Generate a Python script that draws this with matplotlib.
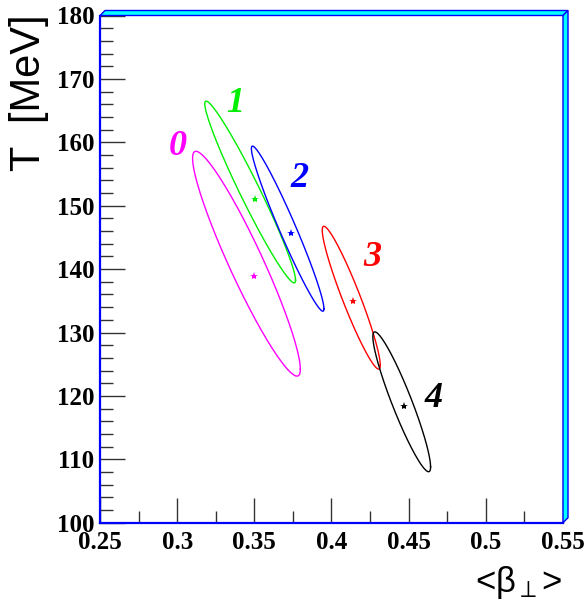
import numpy as np
import matplotlib
matplotlib.use("Agg")
import matplotlib.pyplot as plt
from matplotlib.patches import Polygon

plt.rcParams['mathtext.fontset'] = 'custom'
plt.rcParams['mathtext.rm'] = 'Liberation Sans'
plt.rcParams['mathtext.it'] = 'Liberation Sans'

# fit contours: centre, widths and correlation of each ellipse
labels = ['0', '1', '2', '3', '4']
colors = ['#ff00ff', '#00ee00', '#0000ff', '#ff0000', '#000000']
beta_c = [0.3449, 0.3473, 0.3716, 0.4128, 0.4455]
beta_s = [0.0349, 0.0294, 0.0235, 0.0188, 0.0187]
T_c = [140.85, 152.16, 146.38, 135.49, 119.07]
T_s = [17.73, 14.34, 13.02, 11.27, 11.03]
rho = [-0.938, -0.970, -0.969, -0.944, -0.930]

# best fit points
beta_best = [0.3498, 0.3505, 0.3735, 0.4138, 0.4468]
T_best = [138.9, 151.1, 145.7, 134.9, 118.4]

# label positions
lab_x = [0.3005, 0.3373, 0.3794, 0.4266, 0.4660]
lab_y = [159.4, 166.1, 154.3, 141.8, 119.6]

W, H = 588, 610
fig = plt.figure(figsize=(W / 100, H / 100), dpi=100)
x0, x1, ytop, ybot = 100, 563, 15.5, 522.7
ax = fig.add_axes([x0 / W, 1 - ybot / H, (x1 - x0) / W, (ybot - ytop) / H])

t = np.linspace(0, 2 * np.pi, 400)
for i in range(len(labels)):
    ex = beta_c[i] + beta_s[i] * np.cos(t)
    ey = T_c[i] + T_s[i] * (rho[i] * np.cos(t) + np.sqrt(1 - rho[i] ** 2) * np.sin(t))
    ax.plot(ex, ey, color=colors[i], lw=1.0)
    ax.plot(beta_best[i], T_best[i], marker='*', color=colors[i], ms=6, mew=0)
    ax.text(lab_x[i], lab_y[i], labels[i], color=colors[i], fontsize=26,
            family='Liberation Serif', weight='bold', style='italic',
            ha='center', va='center')

ax.set_xlim(0.25, 0.55)
ax.set_ylim(100, 180)
ax.set_xticks(np.arange(0.25, 0.5501, 0.05))
ax.set_xticks(np.arange(0.25, 0.5501, 0.025), minor=True)
ax.set_yticks(np.arange(100, 181, 10))
ax.set_yticks(np.arange(100, 181, 2), minor=True)
ax.set_xticklabels(['0.25', '0.3', '0.35', '0.4', '0.45', '0.5', '0.55'])
ax.tick_params(which='both', direction='in', top=False, right=False, color='#333333', width=1)
ax.tick_params(which='major', length=18)
ax.tick_params(which='minor', length=9)
ax.tick_params(axis='x', pad=6)
ax.tick_params(axis='y', pad=4)
for lab in ax.get_xticklabels() + ax.get_yticklabels():
    lab.set_family('Liberation Serif')
    lab.set_weight('bold')
    lab.set_fontsize(18)

for s in ['top', 'right']:
    ax.spines[s].set_visible(False)
for s in ['left', 'bottom']:
    ax.spines[s].set_color('#0000ff')
    ax.spines[s].set_linewidth(1.6)

# 3D-style frame on top and right
d = 5
top_bar = [(x0, ytop), (x0 + d, ytop - d), (x1 + d, ytop - d), (x1, ytop)]
right_bar = [(x1, ytop), (x1 + d, ytop - d), (x1 + d, ybot - d), (x1, ybot)]
for poly in (top_bar, right_bar):
    pts = [(px / W, 1 - py / H) for px, py in poly]
    fig.patches.append(Polygon(pts, closed=True, transform=fig.transFigure,
                               facecolor='#00ffff', edgecolor='#0000ff', lw=1.0))

fig.text(29 / W, 1 - 14 / H, 'T  [MeV]', rotation=90, ha='center', va='top',
         fontsize=30, family='Liberation Sans')
fig.text(562 / W, 1 - 592 / H, r'<$\mathrm{\beta}_{\perp}$>', ha='right', va='baseline',
         fontsize=25, family='Liberation Sans')

fig.savefig('out.png', dpi=100)
